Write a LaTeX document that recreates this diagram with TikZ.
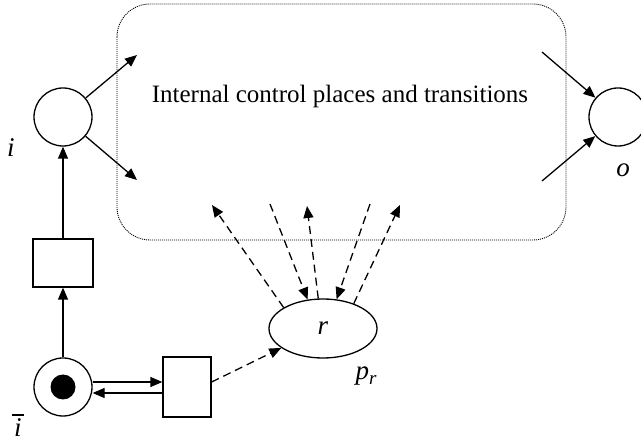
\documentclass[tikz,border=0pt]{standalone}
\usepackage{fontspec}
\setmainfont{Liberation Serif}
\usetikzlibrary{arrows.meta,shapes.geometric}
\tikzset{
  place/.style={draw,circle,line width=1.3pt,minimum size=58pt,inner sep=0pt},
  trans/.style={draw,rectangle,line width=1.3pt,inner sep=0pt},
  arc/.style={line width=1.3pt,-{Triangle[length=12pt,width=10pt]}},
  darc/.style={arc,dash pattern=on 8pt off 5pt},
  lbl/.style={font=\fontsize{27}{27}\selectfont\itshape,inner sep=0pt},
}
\begin{document}
\begin{tikzpicture}[x=1pt,y=-1pt]
\useasboundingbox (0,0) rectangle (641,446);
% internal box
\draw[line width=0.9pt,dash pattern=on 1pt off 1pt,rounded corners=33pt] (117,4) rectangle (566,240);
\node[font=\fontsize{25}{25}\selectfont] (txt) at (340,96) {Internal control places and transitions};
% places
\node[place] (i) at (63,117) {};
\node[place] (o) at (618,117) {};
\node[place] (ib) at (63,387) {};
\fill (ib) circle (12.5pt);
\node[draw,ellipse,line width=1.3pt,minimum width=108pt,minimum height=59pt,inner sep=0pt] (r) at (323,328.5) {};
\node[lbl] at (r) {r};
% transitions
\node[trans,minimum width=60pt,minimum height=48pt] (t1) at (63,263) {};
\node[trans,minimum width=48pt,minimum height=60pt] (t2) at (187,387) {};
% labels
\node[lbl] (li) at (11,148) {i};
\node[lbl] (lo) at (623,170) {o};
\node[lbl] (lib) at (18,428) {i};
\draw[line width=1.3pt] (12,415) -- (24,415);
\node[lbl] (lpr) at (366,376) {p\raisebox{-5pt}{\fontsize{19}{19}\selectfont r}};
% coordinates in the box
\coordinate (a1) at (137,55);
\coordinate (a2) at (137,180);
\coordinate (b1) at (542,52);
\coordinate (b2) at (542,181);
\coordinate (c1) at (212,205);
\coordinate (c2) at (270,204);
\coordinate (c3) at (307,206);
\coordinate (c4) at (370,204);
\coordinate (c5) at (400,205);
% arcs
\draw[arc] (i) -- (a1);
\draw[arc] (i) -- (a2);
\draw[arc] (b1) -- (o);
\draw[arc] (b2) -- (o);
\draw[arc] (t1) -- (i);
\draw[arc] (ib) -- (t1);
\draw[arc] ([yshift=5pt]ib.east) -- ([yshift=5pt]t2.west);
\draw[arc] ([yshift=-6pt]t2.west) -- ([yshift=-6pt]ib.east);
\draw[darc] ([yshift=5pt]t2.east) -- (r.205);
\draw[darc] (r.152) -- (c1);
\draw[darc] (c2) -- (r.118);
\draw[darc] (r.99) -- (c3);
\draw[darc] (c4) -- (r.65);
\draw[darc] (r.39) -- (c5);
\end{tikzpicture}
\end{document}
